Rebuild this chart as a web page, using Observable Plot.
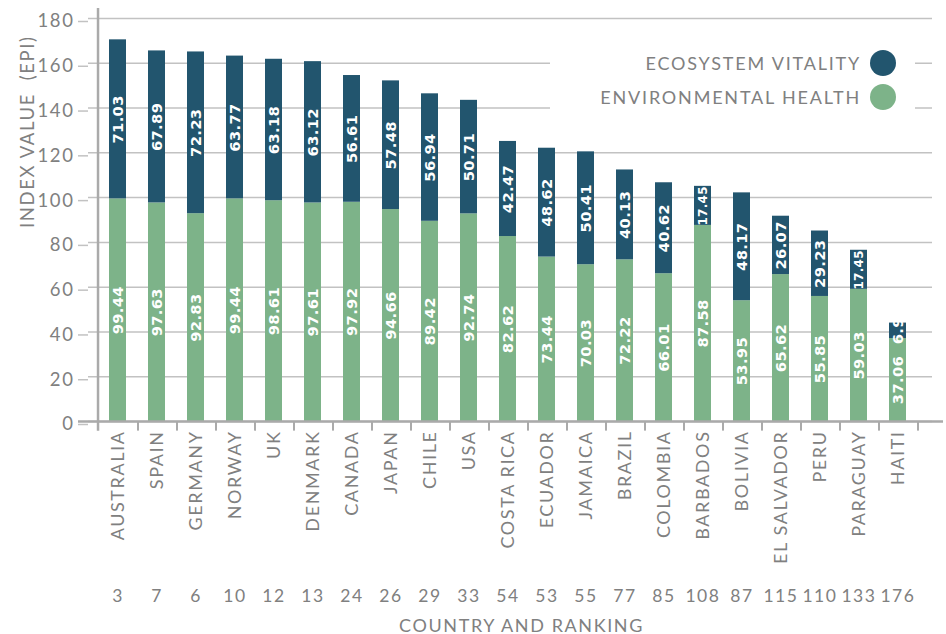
<!DOCTYPE html>
<html>
<head>
<meta charset="utf-8">
<script src="https://cdn.jsdelivr.net/npm/d3@7"></script>
<script src="https://cdn.jsdelivr.net/npm/@observablehq/plot@0.6"></script>
<style>
  body { margin: 0; background: #fff; }
  #wrap { position: relative; width: 946px; height: 634px; font-family: Lato, sans-serif; }
  #wrap svg text { letter-spacing: 1.6px; }
  #wrap svg g[fill="white"] text { letter-spacing: 0.3px; }
  .legend { position: absolute; left: 550px; top: 44px; width: 365px; height: 74px; background: #fff;
            font-family: Lato, sans-serif; font-size: 18px; color: #808080; letter-spacing: 1.8px; }
  .legend .row { position: absolute; left: 0; width: 346px; height: 30px; display: flex;
                 justify-content: flex-end; align-items: center; gap: 9px; white-space: nowrap; }
  .legend .dot { width: 26px; height: 26px; border-radius: 50%; flex: none; }
</style>
</head>
<body>
<div id="wrap"></div>
<script>
const countries = ["AUSTRALIA","SPAIN","GERMANY","NORWAY","UK","DENMARK","CANADA","JAPAN","CHILE","USA",
  "COSTA RICA","ECUADOR","JAMAICA","BRAZIL","COLOMBIA","BARBADOS","BOLIVIA","EL SALVADOR","PERU","PARAGUAY","HAITI"];
const ranks = [3,7,6,10,12,13,24,26,29,33,54,53,55,77,85,108,87,115,110,133,176];
const environmentalHealth = [99.44,97.63,92.83,99.44,98.61,97.61,97.92,94.66,89.42,92.74,
  82.62,73.44,70.03,72.22,66.01,87.58,53.95,65.62,55.85,59.03,37.06];
const ecosystemVitality = [71.03,67.89,72.23,63.77,63.18,63.12,56.61,57.48,56.94,50.71,
  42.47,48.62,50.41,40.13,40.62,17.45,48.17,26.07,29.23,17.45,6.9];
const seriesNames = ["ENVIRONMENTAL HEALTH", "ECOSYSTEM VITALITY"];
const seriesColors = ["#7db389", "#22556e"];
const yTicks = [0,20,40,60,80,100,120,140,160,180];

const rows = [];
countries.forEach((c, i) => {
  rows.push({country: c, series: seriesNames[0], value: environmentalHealth[i]});
  rows.push({country: c, series: seriesNames[1], value: ecosystemVitality[i]});
});

const xRange = [88, 927];
const step = (xRange[1] - xRange[0]) / countries.length;
const gray = "#808080";
const lineGray = "#c2c2c2";

const chart = Plot.plot({
  width: 946,
  height: 634,
  marginTop: 18,
  marginBottom: 213,
  marginLeft: 88,
  marginRight: 14,
  style: {fontFamily: "Lato, sans-serif", background: "#fff", color: gray},
  x: {domain: countries, range: xRange, paddingInner: 0.575, paddingOuter: 0.2875, label: null},
  y: {domain: [0, 180], range: [421, 18], label: null},
  color: {domain: seriesNames, range: seriesColors},
  marks: [
    Plot.gridY(yTicks, {stroke: lineGray, strokeOpacity: 1, strokeWidth: 1.5}),
    Plot.axisY(yTicks, {tickSize: 10, tickPadding: 4, fontSize: 18.5, fill: gray, stroke: lineGray, strokeWidth: 1.5, dy: 3, label: null}),
    Plot.axisX({tickSize: 0, tickPadding: 9, tickRotate: -90, fontSize: 18, fill: gray, label: null}),
    Plot.barY(rows, Plot.stackY({x: "country", y: "value", fill: "series"})),
    Plot.text(rows, Plot.stackY({
      x: "country", y: "value", text: d => String(d.value), rotate: -90,
      fill: "white", fontFamily: "DejaVu Sans, sans-serif", fontWeight: "bold",
      fontSize: d => (d.value < 20 && d.value > 10 ? 12 : 14.8)
    })),
    Plot.ruleY([0], {stroke: "#aaaaaa", strokeWidth: 2.5, insetLeft: -10, insetRight: -11}),
    Plot.ruleX([countries[0]], {x: d => d, dx: -step / 2, y1: 184.5, y2: -4.3, stroke: "#aaaaaa", strokeWidth: 2.5}),
    Plot.ruleX(countries, {x: d => d, dx: step / 2, y1: 0, y2: -4.3, stroke: "#aaaaaa", strokeWidth: 2}),
    Plot.text(countries, {x: d => d, text: (d, i) => String(ranks[i]), frameAnchor: "bottom", dy: 180, fontSize: 17.5, fill: gray}),
    Plot.text(["COUNTRY AND RANKING"], {frameAnchor: "bottom", dy: 210, dx: 11, fontSize: 18, fill: gray}),
    Plot.text(["INDEX VALUE\u00a0 (EPI)"], {frameAnchor: "left", dx: -60, dy: 8, rotate: -90, fontSize: 18.5, fill: gray})
  ]
});

const wrap = document.getElementById("wrap");
wrap.appendChild(chart);

// legend (ecosystem vitality on top, environmental health below)
const legend = document.createElement("div");
legend.className = "legend";
const legendOrder = [1, 0];
legendOrder.forEach((si, k) => {
  const row = document.createElement("div");
  row.className = "row";
  row.style.top = (k === 0 ? 4 : 38) + "px";
  const label = document.createElement("span");
  label.textContent = seriesNames[si];
  const dot = document.createElement("span");
  dot.className = "dot";
  dot.style.background = seriesColors[si];
  row.appendChild(label);
  row.appendChild(dot);
  legend.appendChild(row);
});
wrap.appendChild(legend);
</script>
</body>
</html>
